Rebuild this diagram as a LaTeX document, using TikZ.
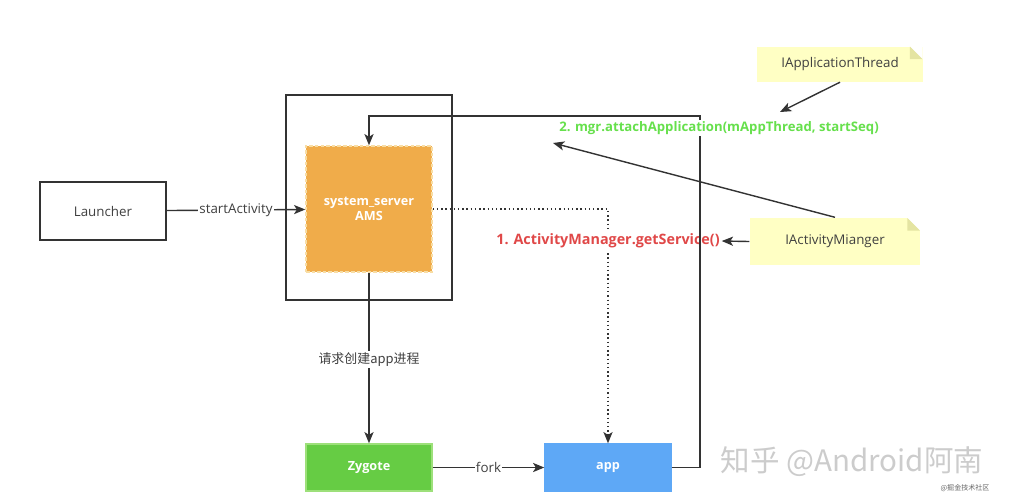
\documentclass[tikz,border=0pt]{standalone}
\usepackage{fontspec}
\setmainfont{Open Sans}
\newfontfamily\cjk{Noto Sans CJK SC}
\usepackage{xcolor}
\usetikzlibrary{positioning, arrows.meta}

\definecolor{linegray}{HTML}{333333}
\definecolor{textgray}{HTML}{404040}
\definecolor{amsorange}{HTML}{F0AC4A}
\definecolor{amsborder}{HTML}{F8DDA4}
\definecolor{zygreen}{HTML}{66CC44}
\definecolor{zyborder}{HTML}{9DE07A}
\definecolor{appblue}{HTML}{5EA8F6}
\definecolor{notefill}{HTML}{FFFFC4}
\definecolor{notefold}{HTML}{E4E4A2}
\definecolor{callred}{HTML}{E04848}
\definecolor{callgreen}{HTML}{66E04C}

\begin{document}
\begin{tikzpicture}[
    x = 0.025cm, y = -0.025cm,
    font = \fontsize{9.5}{11}\selectfont,
    line width = 1pt,
    arr/.style = {draw=linegray, -{Stealth[length=8pt, width=6.5pt, inset=2pt]}},
    box/.style = {rectangle, minimum width=3.15cm, inner sep=0pt},
    proc/.style = {box, minimum height=1.175cm, text=white,
        font=\fontsize{9}{11}\selectfont\bfseries},
    lbl/.style = {fill=white, inner sep=1pt, text=textgray},
    call/.style = {fill=white, inner sep=1pt},
    note/.style = {
        rectangle, fill=notefill, inner sep=0pt, text=textgray,
        path picture={
            \fill[white] ([xshift=-9pt]path picture bounding box.north east)
                -- (path picture bounding box.north east)
                -- ([yshift=-9pt]path picture bounding box.north east) -- cycle;
            \fill[notefold] ([xshift=-9pt]path picture bounding box.north east)
                -- ([xshift=-9pt, yshift=-9pt]path picture bounding box.north east)
                -- ([yshift=-9pt]path picture bounding box.north east) -- cycle;
        }
    }
  ]
    \useasboundingbox (0,0) rectangle (1012,502);

    % boxes
    \node[box, draw=linegray, minimum height=1.45cm, text=textgray] (launcher) at (103,211) {Launcher};
    \node[draw=linegray, minimum width=4.15cm, minimum height=5.125cm] (frame) at (369,197.5) {};
    \node[box, fill=amsorange, draw=amsborder, dash pattern=on 2.5pt off 1.5pt, minimum height=3.15cm,
        text=white, align=center, font=\fontsize{9}{11}\selectfont\bfseries] (ams) at (369,209)
        {system\_server\\AMS};
    \node[proc, fill=zygreen, draw=zyborder] (zygote) at (369,467.5) {Zygote};
    \node[proc, fill=appblue, draw=appblue] (app) at (608,467.5) {app};

    % notes
    \node[note, minimum width=4.25cm, minimum height=1.175cm] (iam) at (835,241.5) {IActivityMianger};
    \node[note, minimum width=4.125cm, minimum height=0.875cm] (iat) at (840,64) {IApplicationThread};

    % connectors
    \draw[arr] (launcher) -- node[lbl] {startActivity} (ams);
    \draw[arr] (ams) -- node[lbl, font=\cjk\fontsize{9.2}{11}\selectfont, pos=0.51] {请求创建app进程} (zygote);
    \draw[arr] (zygote) -- node[lbl] {fork} (app);

    % 1. getService
    \draw[arr, dotted] (ams.east) -| (app.north);
    \node[call, text=callred, font=\fontsize{10.2}{12}\selectfont\bfseries] (getsvc) at (608,241)
        {1. ActivityManager.getService()};
    \draw[arr] (iam.west) -- (getsvc.east);

    % 2. attachApplication
    \coordinate (bend) at (700,116);
    \draw[arr] (app.east) -| (bend) -| (ams.north);
    \node[call, text=callgreen, font=\fontsize{9.35}{11}\selectfont\bfseries] (attach) at (719,128)
        {2. mgr.attachApplication(mAppThread, startSeq)};
    \coordinate (attachtip) at (553,143);
    \coordinate (threadtip) at (780,112);
    \draw[arr] (iam.north) -- (attachtip);
    \draw[arr] (iat.south) -- (threadtip);

    % watermark
    \node[text=gray!40, font=\cjk\fontsize{21}{24}\selectfont] (wm) at (852,462) {知乎 @Android阿南};
    \node[text=gray!80!black, font=\cjk\fontsize{5}{6}\selectfont] (wm2) at (965,488) {@掘金技术社区};
\end{tikzpicture}
\end{document}
